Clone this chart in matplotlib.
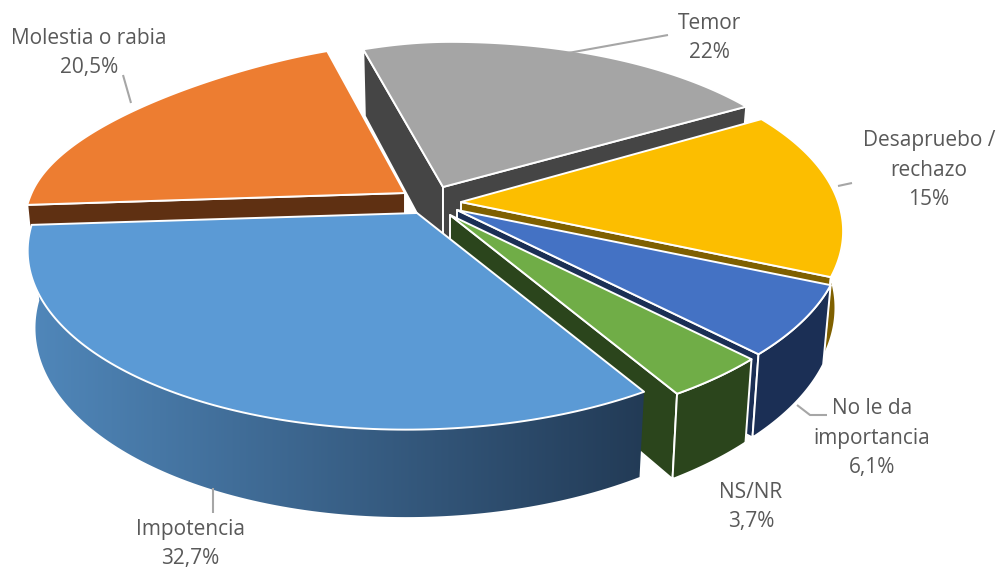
import numpy as np
import matplotlib
matplotlib.use("Agg")
import matplotlib.pyplot as plt
from matplotlib.colors import LinearSegmentedColormap
from matplotlib.patches import Polygon

# data, clockwise from the top
categories = ["Temor", "Desapruebo /\nrechazo", "No le da\nimportancia", "NS/NR", "Impotencia", "Molestia o rabia"]
values = [22, 15, 6.1, 3.7, 32.7, 20.5]
value_labels = ["22%", "15%", "6,1%", "3,7%", "32,7%", "20,5%"]

top_colors = ["#a5a5a5", "#fcbe00", "#4472c4", "#70ad47", "#5b9ad5", "#ed7d31"]
wall_colors = ["#454545", "#7f6000", "#1b2f55", "#2b451c", "#24405f", "#5f3012"]

# where each exploded slice has its tip, and size factors for it
tips = [(443, 187), (461, 202), (457, 210), (450, 215), (417, 213), (405, 193)]
x_scale = [1.0, 0.99, 1.0, 1.0, 1.0, 0.98]
y_scale = [0.97, 1.0, 1.0, 1.0, 1.0, 1.0]
draw_order = [0, 5, 1, 2, 3, 4]

start_angle = -20
RX, RY = 381, 177
PERSP = 0.183
X_SHEAR = 0.05
BACK_LEFT = 0.25
DEPTH = 75
BOTTOM = 0.98

# label centres and leader lines in picture pixels
label_pos = [(709, 38), (929, 170), (872, 438), (751, 507), (190, 544), (89, 53)]
leaders = [
    [(568, 53), (668, 35)],
    [(838, 186), (852, 183)],
    [(797, 405), (810, 415), (827, 415)],
    [],
    [(213, 488), (213, 513)],
    [(123, 75), (131, 103)],
]


def project(theta, i, z=0.0):
    # theta in degrees clockwise from the back of the pie, z=1 is the bottom face
    t = np.radians(theta)
    X = np.sin(t)
    Y = -np.cos(t)
    s = 1 / (1 - PERSP * Y)
    f = 1 - (1 - BOTTOM) * z
    # the back left of the original is narrower than a plain perspective gives
    pull = np.where((X < 0) & (Y < 0), 1 - BACK_LEFT * Y ** 2, 1.0)
    py = RY * y_scale[i] * Y * s * f
    px = RX * x_scale[i] * X * s * f * pull - X_SHEAR * py
    return np.column_stack([tips[i][0] + px, tips[i][1] + py + DEPTH * z * s])


def poly(ax, pts, color, edge="white", lw=1.4):
    p = Polygon(pts, closed=True, facecolor=color, edgecolor=edge, linewidth=lw, joinstyle="round")
    ax.add_patch(p)
    return p


fig = plt.figure(figsize=(9.97, 5.69), dpi=100)
ax = fig.add_axes([0, 0, 1, 1])

plt.rcParams["font.family"] = ["Open Sans", "DejaVu Sans"]

edges = start_angle + np.concatenate([[0], np.cumsum(values)]) * 3.6
grad = LinearSegmentedColormap.from_list("wall", ["#5087ba", "#223a55"])

for i in draw_order:
    a0, a1 = edges[i], edges[i + 1]
    tip_top = np.array(tips[i], dtype=float)
    tip_bot = tip_top + [0, DEPTH]

    # radial walls, only the ones facing the viewer
    if np.sin(np.radians(a0)) < 0:
        c0, b0 = project(np.array([a0]), i)[0], project(np.array([a0]), i, 1.0)[0]
        poly(ax, [tip_top, c0, b0, tip_bot], wall_colors[i])
    if np.sin(np.radians(a1)) > 0:
        c1, b1 = project(np.array([a1]), i)[0], project(np.array([a1]), i, 1.0)[0]
        poly(ax, [tip_top, c1, b1, tip_bot], wall_colors[i])

    # outer wall, front half of the arc only, skip tiny leftovers at the side
    lo, hi = max(a0, 90), min(a1, 270)
    if hi - lo > 6:
        th = np.linspace(lo, hi, 120)
        top = project(th, i)
        bot = project(th, i, 1.0)
        shape = np.vstack([top, bot[::-1]])
        if categories[i] == "Impotencia":
            # gradient running left to right on the big slice
            p = poly(ax, shape, "none", edge="none", lw=0)
            im = ax.imshow(np.linspace(0, 1, 256)[None, :], extent=(30, 650, 569, 0), cmap=grad,
                           aspect="auto", zorder=1)
            im.set_clip_path(p)
        else:
            poly(ax, shape, wall_colors[i])

    # top face
    th = np.linspace(a0, a1, 120)
    poly(ax, np.vstack([[tip_top], project(th, i)]), top_colors[i])

ax.set_xlim(0, 997)
ax.set_ylim(569, 0)
ax.axis("off")

for pts in leaders:
    if pts:
        xs, ys = zip(*pts)
        ax.plot(xs, ys, color="#a6a6a6", lw=1.5, solid_capstyle="butt")

for name, val, pos in zip(categories, value_labels, label_pos):
    ax.text(pos[0], pos[1], name + "\n" + val, ha="center", va="center", fontsize=15,
            color="#595959", linespacing=1.55)

fig.savefig("out.png", dpi=100)
